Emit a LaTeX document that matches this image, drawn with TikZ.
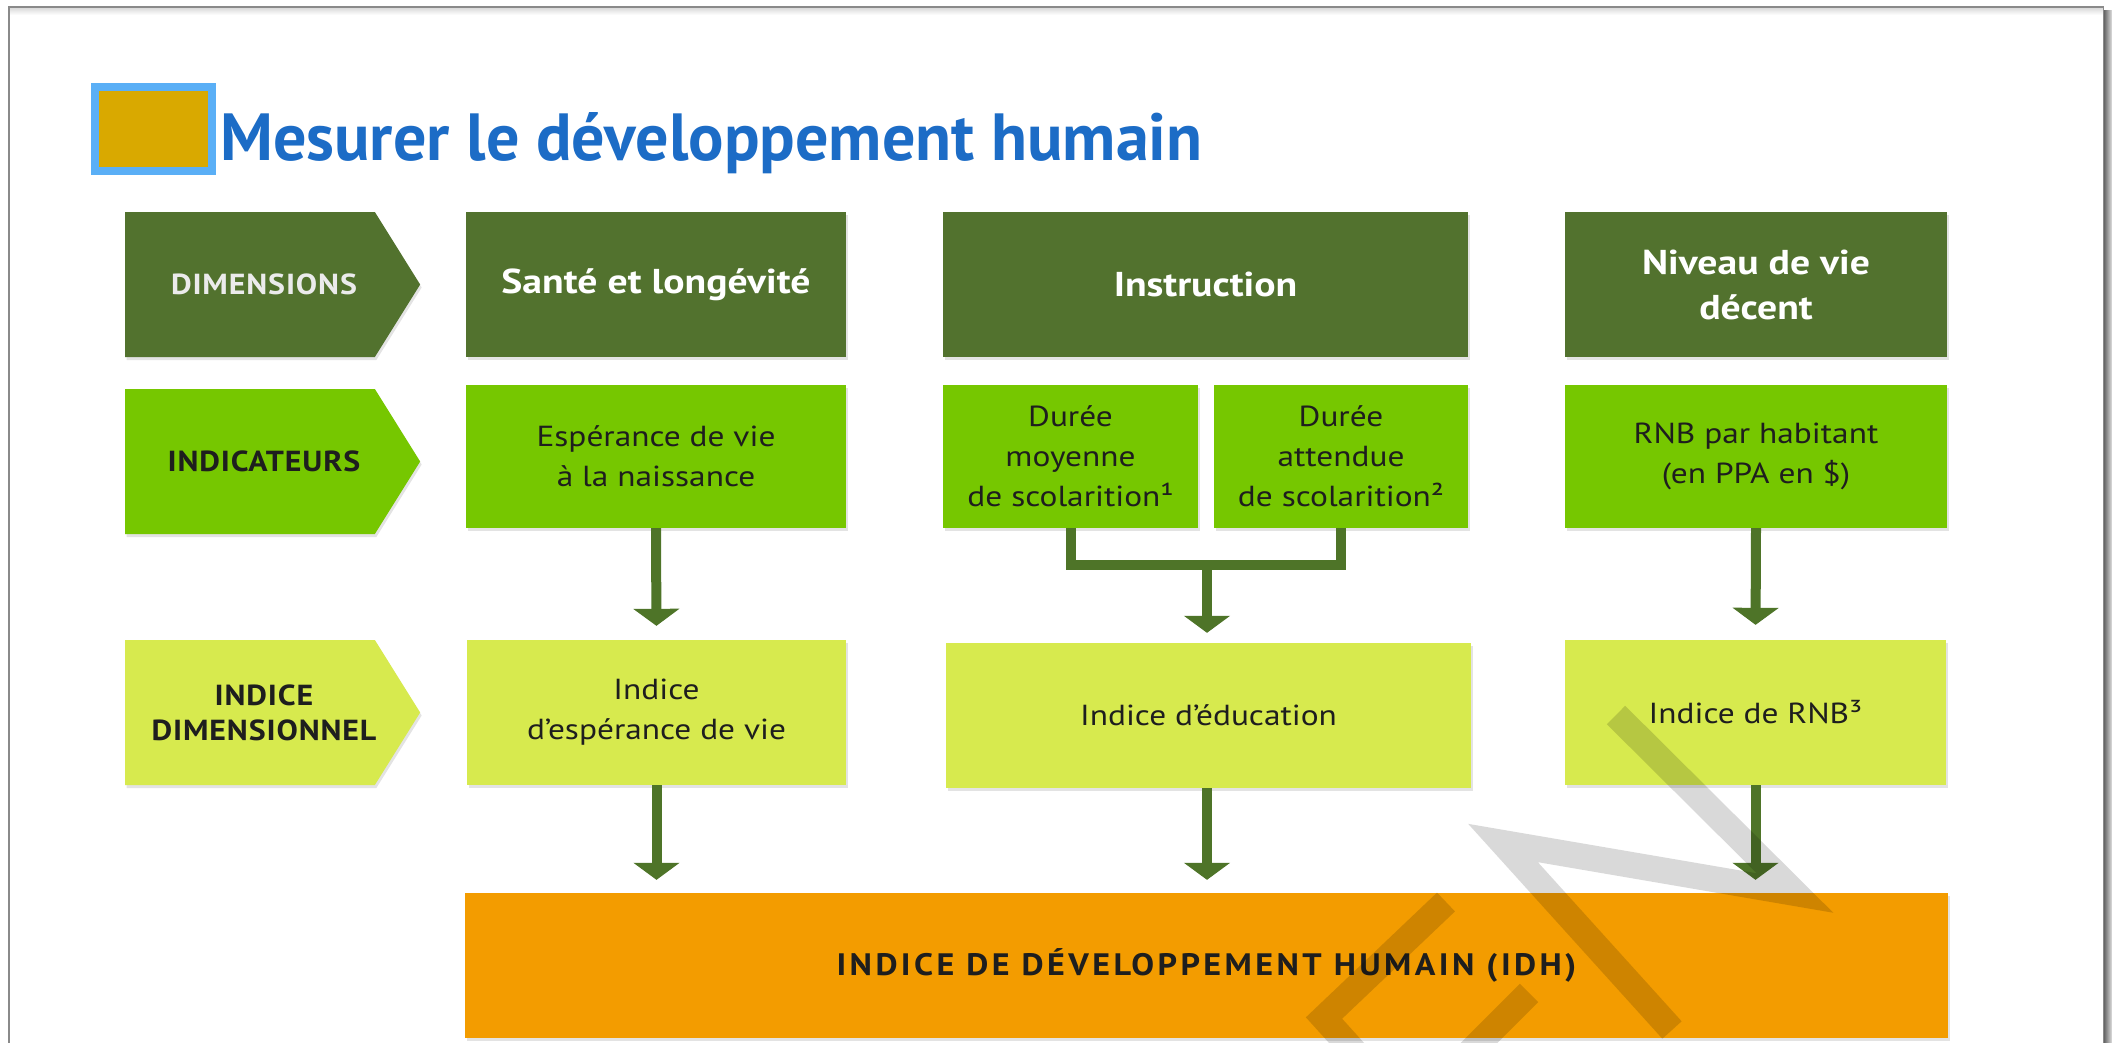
\documentclass[tikz,border=0pt]{standalone}
\usepackage{graphicx}
\usepackage{fontspec}
\setmainfont{PT Sans}[FakeStretch=1.15]
\newfontfamily\titlefont{PT Sans}
\newfontfamily\labfont[FakeStretch=1.1,LetterSpace=3]{PT Sans}
\newfontfamily\idhfont[FakeStretch=1.1,LetterSpace=11]{PT Sans}
\usetikzlibrary{arrows.meta,shapes.symbols,shadows}
\definecolor{dkgreen}{HTML}{52722E}
\definecolor{mdgreen}{HTML}{76C700}
\definecolor{ltgreen}{HTML}{D7EA4E}
\definecolor{idhorange}{HTML}{F39C00}
\definecolor{arrowgreen}{HTML}{4E7428}
\definecolor{titleblue}{HTML}{1C6CC6}
\definecolor{sqblue}{HTML}{5AAFF6}
\definecolor{sqgold}{HTML}{D9A900}
\definecolor{txtdark}{HTML}{1E1E1E}
\definecolor{framegray}{HTML}{8A8A8A}
\tikzset{
  shad/.style={drop shadow={shadow xshift=1.5pt,shadow yshift=-3pt,opacity=0.22}},
  box/.style={rectangle, inner sep=0pt, align=center, shad},
  dimbox/.style={box, fill=dkgreen, text=white, font=\fontsize{34.5}{45}\selectfont\bfseries, minimum height=145pt},
  indbox/.style={box, fill=mdgreen, text=txtdark, font=\fontsize{29}{40}\selectfont, minimum height=143pt},
  idxbox/.style={box, fill=ltgreen, text=txtdark, font=\fontsize{29}{40}\selectfont, minimum height=145pt},
  labshape/.style={signal, signal to=east, signal from=nowhere, signal pointer angle=116, inner sep=0pt,
     minimum width=295pt, minimum height=145pt, shad},
  labtext/.style={inner sep=0pt, align=center, font=\labfont\fontsize{29}{35}\selectfont\bfseries},
  flow/.style={draw=arrowgreen, line width=10pt, -{Triangle[width=46pt,length=17pt,line width=1pt]}},
  bar/.style={draw=arrowgreen, line width=10pt, line join=miter},
  wm/.style={draw=black, draw opacity=0.15, line width=26pt, line join=miter}
}
\begin{document}
\begin{tikzpicture}[x=1pt,y=-1pt]
\useasboundingbox (0,0) rectangle (2112,1042);
\fill[white] (0,0) rectangle (2112,1042);
% frame
\fill[left color=black!60, right color=black!12] (2104,10) rectangle (2112,1042);
\fill[top color=black!14, bottom color=white] (10,8) rectangle (2103,15);
\draw[framegray, line width=1.6pt] (9,1060) -- (9,7) -- (2103.5,7) -- (2103.5,1060);

% title
\node[rectangle, fill=sqgold, draw=sqblue, line width=8pt, minimum width=117pt, minimum height=84pt,
      inner sep=0pt, drop shadow={shadow xshift=0pt,shadow yshift=-2pt,opacity=0.3}] (sq) at (153.5,129) {};
\node[anchor=base west, inner sep=0pt, text=titleblue] (title) at (220,160)
   {\resizebox{982pt}{48pt}{\titlefont\bfseries Mesurer le développement humain}};

% row labels
\node[labshape, fill=dkgreen] (ldim) at (250,284.5) {};
\node[labtext, text=white!92!black] (ldimt) at (264,284.5) {DIMENSIONS};
\node[labshape, fill=mdgreen] (lind) at (250,461.5) {};
\node[labtext, text=txtdark] (lindt) at (264,461.5) {INDICATEURS};
\node[labshape, fill=ltgreen] (lidx) at (250,712.5) {};
\node[labtext, text=txtdark] (lidxt) at (264,712.5) {INDICE\\DIMENSIONNEL};

% dimensions
\node[dimbox, minimum width=380pt] (d1) at (656,284.5) {Santé et longévité};
\node[dimbox, minimum width=525pt] (d2) at (1205.5,284.5) {Instruction};
\node[dimbox, minimum width=382pt] (d3) at (1756,284.5) {Niveau de vie\\décent};

% indicators
\node[indbox, minimum width=380pt] (i1) at (656,456.5) {Espérance de vie\\à la naissance};
\node[indbox, minimum width=255pt] (i2a) at (1070.5,456.5) {Durée\\moyenne\\de scolarition¹};
\node[indbox, minimum width=254pt] (i2b) at (1341,456.5) {Durée\\attendue\\de scolarition²};
\node[indbox, minimum width=382pt] (i3) at (1756,456.5) {RNB par habitant\\(en PPA en \$)};

% indices
\node[idxbox, minimum width=379pt] (x1) at (656.5,712.5) {Indice\\d'espérance de vie};
\node[idxbox, minimum width=525pt] (x2) at (1208.5,715.5) {Indice d'éducation};
\node[idxbox, minimum width=381pt] (x3) at (1755.5,712.5) {Indice de RNB³};

% IDH
\node[box, fill=idhorange, text=txtdark, minimum width=1483pt, minimum height=145pt,
      font=\idhfont\fontsize{31}{36}\selectfont\bfseries] (idh) at (1206.5,965.5)
      {INDICE DE DÉVELOPPEMENT HUMAIN (IDH)};

% connectors
\coordinate (bj) at (1207,565);
\draw[flow, shorten >=14pt] (i1.south) -- (x1.north);
\draw[bar] (i2a.south) -- (i2a.south |- bj) -- (i2b.south |- bj) -- (i2b.south);
\draw[flow, shorten >=10pt] (bj) -- (bj |- x2.north);
\draw[flow, shorten >=15pt] (i3.south) -- (x3.north);
\draw[flow, shorten >=13pt] (x1.south) -- (x1.south |- idh.north);
\draw[flow, shorten >=13pt] (x2.south -| bj) -- (bj |- idh.north);
\draw[flow, shorten >=13pt] (x3.south) -- (x3.south |- idh.north);

% watermark
\draw[wm] (1616,715) -- (1795,893) -- (1503,843) -- (1672,1030);
\draw[wm] (1446,902) -- (1324,1018) -- (1362,1060);
\draw[wm] (1529,993) -- (1460,1062);
\end{tikzpicture}
\end{document}
